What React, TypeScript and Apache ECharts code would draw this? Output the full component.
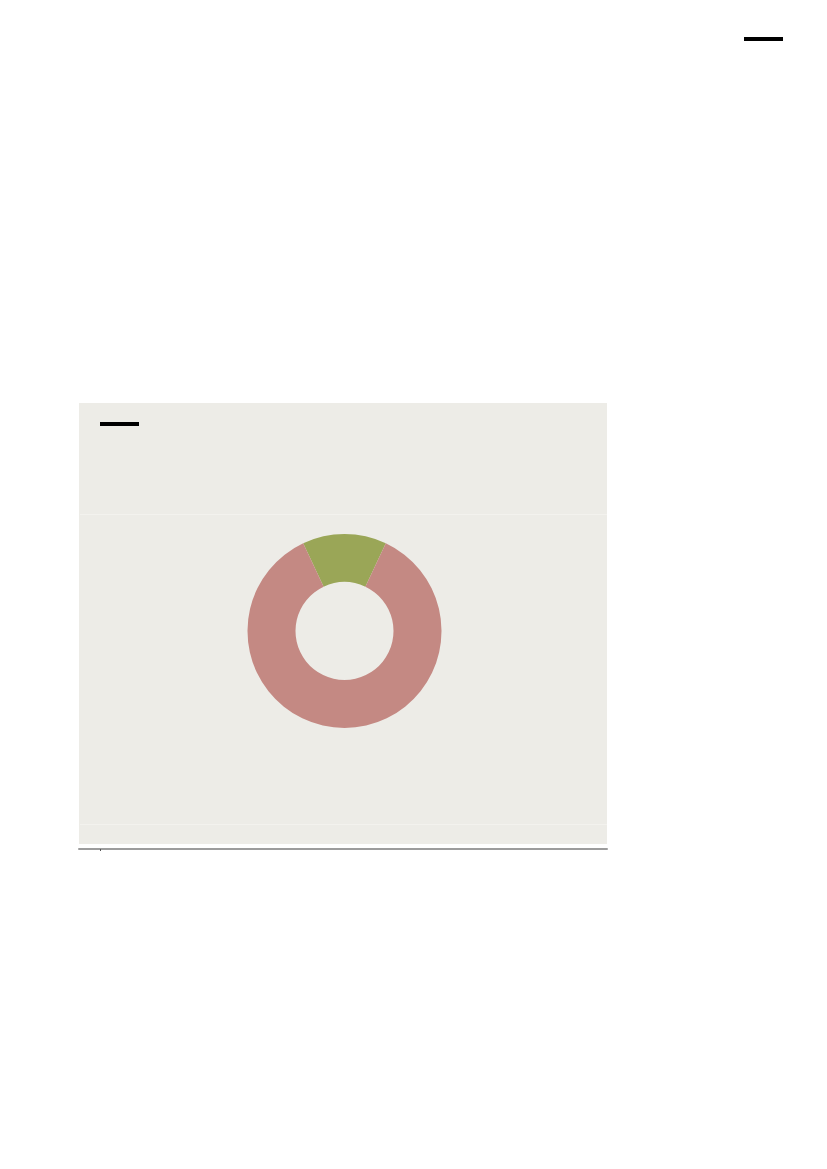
import React, { useEffect, useRef } from 'react';
import * as echarts from 'echarts';

// slice shares (green ~51 deg of 360)
const sliceNames = ['Part A', 'Part B'];
const sliceValues = [14, 86];
const sliceColors = ['#9aa657', '#c48983'];

// single tick on the bottom axis
const axisTickValues = [4];

const App: React.FC = () => {
  const chartRef = useRef<HTMLDivElement>(null);

  useEffect(() => {
    document.body.style.margin = '0';
    if (!chartRef.current) return;
    const chart = echarts.init(chartRef.current, undefined, { renderer: 'svg' });

    const startAngle = 90 + (sliceValues[0] / (sliceValues[0] + sliceValues[1])) * 180;

    chart.setOption({
      animation: false,
      grid: {
        left: 79,
        top: 403,
        width: 528,
        height: 446,
        show: false,
      },
      xAxis: {
        type: 'value',
        min: 0,
        max: 100,
        axisLine: { show: true, lineStyle: { color: '#9c9c9c', width: 2 } },
        axisTick: {
          show: true,
          customValues: axisTickValues,
          length: 2,
          lineStyle: { color: '#555', width: 1 },
        },
        axisLabel: { show: false },
        splitLine: { show: false },
      },
      yAxis: {
        type: 'value',
        show: false,
        min: 0,
        max: 100,
      },
      graphic: [
        {
          type: 'rect',
          z: -10,
          shape: { x: 79, y: 403, width: 528, height: 441 },
          style: { fill: '#edece7' },
        },
        { type: 'rect', shape: { x: 744, y: 37, width: 39, height: 4 }, style: { fill: '#000' } },
        { type: 'rect', shape: { x: 100, y: 422, width: 39, height: 4 }, style: { fill: '#000' } },
        {
          type: 'line',
          shape: { x1: 80, y1: 514.5, x2: 607, y2: 514.5 },
          style: { stroke: '#f3f2ee', lineWidth: 1 },
        },
        {
          type: 'line',
          shape: { x1: 80, y1: 824.5, x2: 607, y2: 824.5 },
          style: { stroke: '#f3f2ee', lineWidth: 1 },
        },
      ],
      series: [
        {
          type: 'pie',
          center: [344.5, 631],
          radius: [49, 97],
          startAngle,
          clockwise: true,
          label: { show: false },
          labelLine: { show: false },
          emphasis: { disabled: true },
          data: sliceNames.map((name, i) => ({
            name,
            value: sliceValues[i],
            itemStyle: { color: sliceColors[i] },
          })),
        },
      ],
    });

    return () => {
      chart.dispose();
    };
  }, []);

  return <div ref={chartRef} style={{ width: '827px', height: '1169px' }}></div>;
};

export default App;
